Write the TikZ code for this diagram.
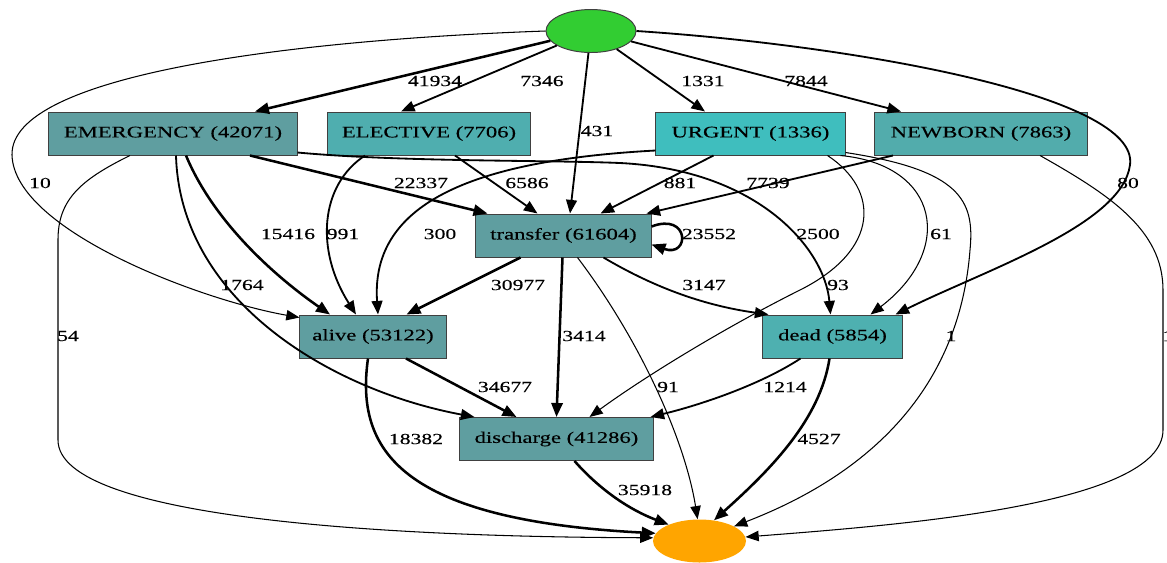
\documentclass[tikz,border=0pt]{standalone}
\usepackage{fontspec}
\setmainfont[FakeStretch=1.4,FakeBold=0.3]{Liberation Serif}
\usepackage{tikz}
\usetikzlibrary{arrows.meta,calc,shapes.geometric}
\definecolor{cadet}{HTML}{5F9EA0}
\definecolor{electeal}{HTML}{4FAEAF}
\definecolor{urgteal}{HTML}{3FBEBE}
\definecolor{newbteal}{HTML}{52ACAC}
\definecolor{deadteal}{HTML}{4EB0B0}
\definecolor{startgreen}{HTML}{32CD32}
\definecolor{finishorange}{HTML}{FFA500}
\tikzset{
  statebox/.style={draw=black!75, line width=0.7pt, minimum height=1.075cm, inner sep=0pt, font=\fontsize{11.5}{13}\selectfont},
  terminal/.style={ellipse, minimum height=1.075cm, inner sep=0pt},
  heavyarrow/.style={-{Triangle[length=3.5mm,width=2.8mm]}, line width=1.8pt},
  arrow/.style={-{Triangle[length=3.4mm,width=2.7mm]}, line width=1.3pt},
  thinarrow/.style={-{Triangle[length=3.3mm,width=2.6mm]}, line width=0.75pt}
}

\begin{document}
\begin{tikzpicture}[x=0.025cm, y=-0.025cm, lbl/.style={font=\fontsize{11}{13}\selectfont, inner sep=0pt}]
\useasboundingbox (0,0) rectangle (1167,562);
% terminals
\node[terminal, fill=startgreen, draw=black!75, line width=0.7pt, minimum width=2.25cm] (start) at (591,31) {};
\node[terminal, fill=finishorange, minimum width=2.325cm] (finish) at (699.5,541) {};
% admission types
\node[statebox, fill=cadet, minimum width=6.2cm] (emergency) at (173,133.5) {EMERGENCY (42071)};
\node[statebox, fill=electeal, minimum width=5.05cm] (elective) at (429,133.5) {ELECTIVE (7706)};
\node[statebox, fill=urgteal, minimum width=4.725cm] (urgent) at (750.5,133.5) {URGENT (1336)};
\node[statebox, fill=newbteal, minimum width=5.3cm] (newborn) at (981,133.5) {NEWBORN (7863)};
% stays and outcomes
\node[statebox, fill=cadet, minimum width=4.375cm] (transfer) at (563.5,235.5) {transfer (61604)};
\node[statebox, fill=cadet, minimum width=3.65cm] (alive) at (373,336.5) {alive (53122)};
\node[statebox, fill=deadteal, minimum width=3.475cm] (dead) at (832.5,336.5) {dead (5854)};
\node[statebox, fill=cadet, minimum width=4.825cm] (discharge) at (556.5,439) {discharge (41286)};

% from start
\draw[heavyarrow] (start) -- ($(emergency.north)+(82,0)$) node[lbl] (w41934) at (435,81) {41934};
\draw[arrow] (start) -- ($(elective.north)+(-28,0)$) node[lbl] (w7346) at (542,81) {7346};
\draw[arrow] (start) -- ($(transfer.north)+(6.5,0)$) node[lbl] (w431) at (597,131) {431};
\draw[arrow] (start) -- ($(urgent.north)+(-45.5,0)$) node[lbl] (w1331) at (703,81) {1331};
\draw[arrow] (start) -- ($(newborn.north)+(-80,0)$) node[lbl] (w7844) at (806,81) {7844};
\draw[thinarrow] (start.west) .. controls (290,40) and (10,75) .. (12,155)
  .. controls (14,230) and (200,300) .. ($(alive.north west)+(0,3)$) node[lbl] (w10) at (40,183) {10};
\draw[arrow] (start.east) .. controls (850,45) and (1140,95) .. (1130,165)
  .. controls (1122,225) and (985,270) .. ($(dead.north east)+(-7,0)$) node[lbl] (w80) at (1128,183) {80};

% from EMERGENCY
\draw[heavyarrow] ($(emergency.south)+(77,0)$) -- ($(transfer.north west)+(12,0)$) node[lbl] (w22337) at (421,183) {22337};
\draw[heavyarrow] ($(emergency.south)+(13,0)$) .. controls (215,225) and (280,280) .. ($(alive.north)+(-43,0)$) node[lbl] (w15416) at (288,234) {15416};
\draw[arrow] ($(emergency.south)+(3,0)$) .. controls (180,300) and (330,390) .. ($(discharge.north west)+(15,0)$) node[lbl] (w1764) at (242,285) {1764};
\draw[thinarrow] ($(emergency.south)+(-43,0)$) .. controls (80,180) and (58,200) .. (58,240) -- (58,440)
  .. controls (58,520) and (400,537) .. (finish.176) node[lbl] (w54) at (68,336) {54};
\draw[arrow] ($(emergency.south east)+(0,-3)$) .. controls (400,162) and (550,160) .. (620,163)
  .. controls (760,170) and (825,250) .. ($(dead.north)+(-2,0)$) node[lbl] (w2500) at (818,234) {2500};

% from ELECTIVE
\draw[arrow] ($(elective.south)+(-64,0)$) .. controls (320,185) and (315,250) .. ($(alive.north)+(-17,0)$) node[lbl] (w991) at (343,234) {991};
\draw[arrow] ($(elective.south)+(26,0)$) -- ($(transfer.north)+(-26,0)$) node[lbl] (w6586) at (527,183) {6586};

% from URGENT
\draw[arrow] ($(urgent.south west)+(0,-5)$) .. controls (480,160) and (370,200) .. ($(alive.north)+(5,0)$) node[lbl] (w300) at (440,234) {300};
\draw[arrow] ($(urgent.south)+(-37,0)$) -- ($(transfer.north)+(37,0)$) node[lbl] (w881) at (680,183) {881};
\draw[thinarrow] ($(urgent.south)+(77,0)$) .. controls (880,190) and (880,250) .. (800,290)
  .. controls (720,330) and (640,380) .. ($(discharge.north)+(33,0)$) node[lbl] (w93) at (838,285) {93};
\draw[thinarrow] ($(urgent.south east)+(-5,0)$) .. controls (940,165) and (955,250) .. ($(dead.north)+(38,0)$) node[lbl] (w61) at (941,234) {61};
\draw[thinarrow] ($(urgent.south east)+(0,-3)$) .. controls (960,170) and (975,200) .. (970,250)
  .. controls (960,380) and (880,470) .. (finish.23) node[lbl] (w1u) at (951,336) {1};

% from NEWBORN
\draw[arrow] ($(newborn.south)+(-88,0)$) -- ($(transfer.north east)+(-5,0)$) node[lbl] (w7739) at (768,183) {7739};
\draw[thinarrow] ($(newborn.south)+(59,0)$) .. controls (1110,195) and (1163,230) .. (1163,290) -- (1163,430)
  .. controls (1163,505) and (900,525) .. (finish.5) node[lbl, anchor=west] (w1n) at (1162,336) {1};

% from transfer
\draw[heavyarrow] ($(transfer.east)+(0,-9)$) .. controls (690,212) and (690,258) .. ($(transfer.east)+(0,9)$) node[lbl] (w23552) at (709,234) {23552};
\draw[heavyarrow] ($(transfer.south)+(-43,0)$) -- ($(alive.north east)+(-40,0)$) node[lbl] (w30977) at (518,285) {30977};
\draw[heavyarrow] ($(transfer.south)+(-1,0)$) -- (discharge.north) node[lbl] (w3414) at (584,336) {3414};
\draw[arrow] ($(transfer.south)+(40,0)$) .. controls (650,285) and (700,305) .. ($(dead.north west)+(6,0)$) node[lbl] (w3147) at (704,285) {3147};
\draw[thinarrow] ($(transfer.south)+(14,0)$) .. controls (640,340) and (685,440) .. (finish.95) node[lbl] (w91) at (668,387) {91};

% to the end
\draw[heavyarrow] ($(alive.south)+(33,0)$) -- ($(discharge.north)+(-40,0)$) node[lbl] (w34677) at (505,387) {34677};
\draw[heavyarrow] ($(alive.south)+(-5,0)$) .. controls (355,450) and (400,520) .. (finish.170) node[lbl] (w18382) at (416,439) {18382};
\draw[arrow] ($(dead.south)+(-32,0)$) .. controls (760,385) and (700,405) .. ($(discharge.north east)+(-3,0)$) node[lbl] (w1214) at (785,387) {1214};
\draw[heavyarrow] ($(dead.south)+(-3,0)$) .. controls (820,420) and (770,470) .. (finish.55) node[lbl] (w4527) at (819,439) {4527};
\draw[heavyarrow] ($(discharge.south)+(18,0)$) .. controls (600,490) and (630,510) .. (finish.152) node[lbl] (w35918) at (645,490) {35918};
\end{tikzpicture}
\end{document}
